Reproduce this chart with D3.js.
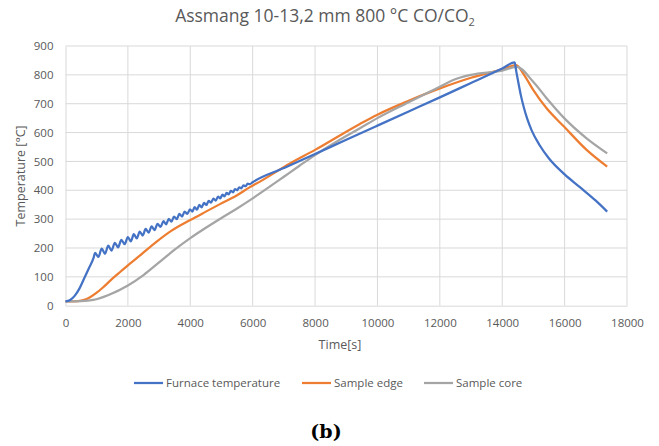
<!DOCTYPE html>
<html>
<head>
<meta charset="utf-8">
<script src="https://cdn.jsdelivr.net/npm/d3@7"></script>
<style>
	body { margin: 0; background: #fff; }
	text { font-family: "Open Sans", "Liberation Sans", sans-serif; fill: #595959; }
</style>
</head>
<body>
<script>
// Data: [time in s, temperature in °C]
var furnace = [
	[0,15],[150,20],[300,35],[450,60],[600,95],[750,130],[900,166],[950,183],
	[1055,169],[1160,198],[1265,180],[1370,208],[1475,191],[1580,218],[1685,202],[1790,228],[1895,213],
	[2000,238],[2095,223],[2190,248],[2285,233],[2380,257],[2475,243],[2570,266],[2665,253],[2760,275],[2855,262],
	[2950,284],[3045,273],[3140,293],[3225,282],[3310,301],[3395,291],[3480,309],[3565,300],[3650,318],[3735,309],
	[3820,326],[3905,318],[3990,334],[4065,326],[4140,342],[4215,333],[4290,349],[4365,341],[4440,356],[4515,349],
	[4590,363],[4665,357],[4740,371],[4815,364],[4890,378],[4960,372],[5030,385],[5098,379],[5165,391],[5233,386],
	[5300,398],[5368,393],[5435,404],[5503,400],[5570,410],[5638,407],[5705,417],[5773,414],[5840,423],[5905,421],
	[6000,428],[7000,477],[8000,526],[9000,575],[10000,624],[11000,673],[12000,722],[13000,772],[14000,822],[14400,843],
	[14450,812],[14520,772],[14600,728],[14700,684],[14800,648],[14950,606],[15200,556],[15500,510],[16000,455],
	[16500,410],[17000,364],[17365,326]
];
var edge = [
	[0,15],[400,16],[600,20],[800,30],[1000,45],[1200,63],[1426,86],[1700,112],[2000,140],[2400,175],[2923,222],
	[3400,260],[4000,297],[4500,326],[4952,352],[5500,383],[5900,410],[6234,430],[7196,493],[8000,540],[9439,630],
	[10000,662],[11000,710],[12000,753],[13000,790],[14000,819],[14450,834],
	[14700,800],[14993,748],[15423,684],[15987,620],[16705,540],[17365,482]
];
var core = [
	[0,15],[500,16],[890,20],[1400,38],[2000,70],[2500,106],[3000,150],[3500,194],[4000,234],[4500,270],
	[5000,304],[5500,337],[6000,372],[6500,409],[7000,447],[7500,485],[8000,522],[8500,556],[9000,588],[9439,615],
	[10000,650],[11000,705],[12000,759],[12430,782],[13000,800],[14000,815],[14460,828],
	[14993,776],[15423,719],[15987,650],[16705,580],[17365,528]
];
var seriesNames = ["Furnace temperature", "Sample edge", "Sample core"];
var seriesColors = ["#4472c4", "#ed7d31", "#a5a5a5"];
var xTicks = [0,2000,4000,6000,8000,10000,12000,14000,16000,18000];
var yTicks = [0,100,200,300,400,500,600,700,800,900];

(function(){
	const Config = {
		svg: {Width: 659, Height: 446},
		plot: {left: 65.5, right: 627, top: 46, bottom: 305.7}
	};
	var P = Config.plot;

	var svg = d3.select('body')
		.append('svg')
		.attr('width', Config.svg.Width)
		.attr('height', Config.svg.Height);

	var scaleX = d3.scaleLinear().domain([0,18000]).range([P.left,P.right]);
	var scaleY = d3.scaleLinear().domain([0,900]).range([P.bottom,P.top]);

	//gridlines
	svg.append('g').selectAll('line.gy')
		.data(yTicks.slice(1))
		.enter().append('line')
			.attr('x1', P.left).attr('x2', P.right)
			.attr('y1', function(d){ return scaleY(d); })
			.attr('y2', function(d){ return scaleY(d); })
			.attr('stroke', '#d9d9d9').attr('stroke-width', 1);
	svg.append('g').selectAll('line.gx')
		.data(xTicks.slice(1))
		.enter().append('line')
			.attr('x1', function(d){ return scaleX(d); })
			.attr('x2', function(d){ return scaleX(d); })
			.attr('y1', P.top).attr('y2', P.bottom)
			.attr('stroke', '#d9d9d9').attr('stroke-width', 1);

	//axis x
	var axX = svg.append('g')
		.attr('transform', 'translate(0,' + P.bottom + ')')
		.call(d3.axisBottom(scaleX).tickValues(xTicks).tickSize(0).tickPadding(13).tickFormat(d3.format('d')));
	axX.select('.domain').attr('stroke', '#d9d9d9');
	axX.selectAll('text').style('font-size', '11.5px').attr('fill', '#595959');

	//axis y
	var axY = svg.append('g')
		.attr('transform', 'translate(' + P.left + ',0)')
		.call(d3.axisLeft(scaleY).tickValues(yTicks).tickSize(0).tickPadding(12));
	axY.select('.domain').attr('stroke', '#d9d9d9');
	axY.selectAll('text').style('font-size', '11.5px').attr('fill', '#595959');

	//titles
	var title = svg.append('text')
		.attr('x', 325).attr('y', 22)
		.attr('text-anchor', 'middle')
		.style('font-size', '17.5px')
		.text('Assmang 10-13,2 mm 800 °C CO/CO');
	title.append('tspan')
		.attr('dy', 4).style('font-size', '11px')
		.text('2');

	svg.append('text')
		.attr('x', 340).attr('y', 349)
		.attr('text-anchor', 'middle')
		.style('font-size', '12.5px')
		.text('Time[s]');

	svg.append('text')
		.attr('transform', 'translate(25,' + (P.top + P.bottom)/2 + ') rotate(-90)')
		.attr('text-anchor', 'middle')
		.style('font-size', '12.5px')
		.text('Temperature [°C]');

	//lines
	var line = d3.line()
		.x(function(d){ return scaleX(d[0]); })
		.y(function(d){ return scaleY(d[1]); })
		.curve(d3.curveMonotoneX);
	[furnace, edge, core].forEach(function(s, i){
		svg.append('path')
			.datum(s)
			.attr('fill', 'none')
			.attr('stroke', seriesColors[i])
			.attr('stroke-width', 2.25)
			.attr('stroke-linejoin', 'round')
			.attr('d', line);
	});
	// furnace on top like in the picture
	svg.selectAll('path').filter(function(d){ return d === furnace; }).raise();

	//legend
	var legX = [134, 302, 424];
	var leg = svg.append('g').selectAll('g')
		.data(seriesNames)
		.enter().append('g')
			.attr('transform', function(d,i){ return 'translate(' + legX[i] + ',383)'; });
	leg.append('line')
		.attr('x1', 0).attr('x2', 29).attr('y1', 0).attr('y2', 0)
		.attr('stroke', function(d,i){ return seriesColors[i]; })
		.attr('stroke-width', 2.25);
	leg.append('text')
		.attr('x', 32).attr('y', 4)
		.style('font-size', '11.5px')
		.text(function(d){ return d; });

	//caption
	svg.append('text')
		.attr('x', 326).attr('y', 438)
		.attr('text-anchor', 'middle')
		.style('font-family', '"DejaVu Serif", serif')
		.style('font-weight', 'bold')
		.style('font-size', '19px')
		.style('fill', '#000')
		.text('(b)');
})();
</script>
</body>
</html>
